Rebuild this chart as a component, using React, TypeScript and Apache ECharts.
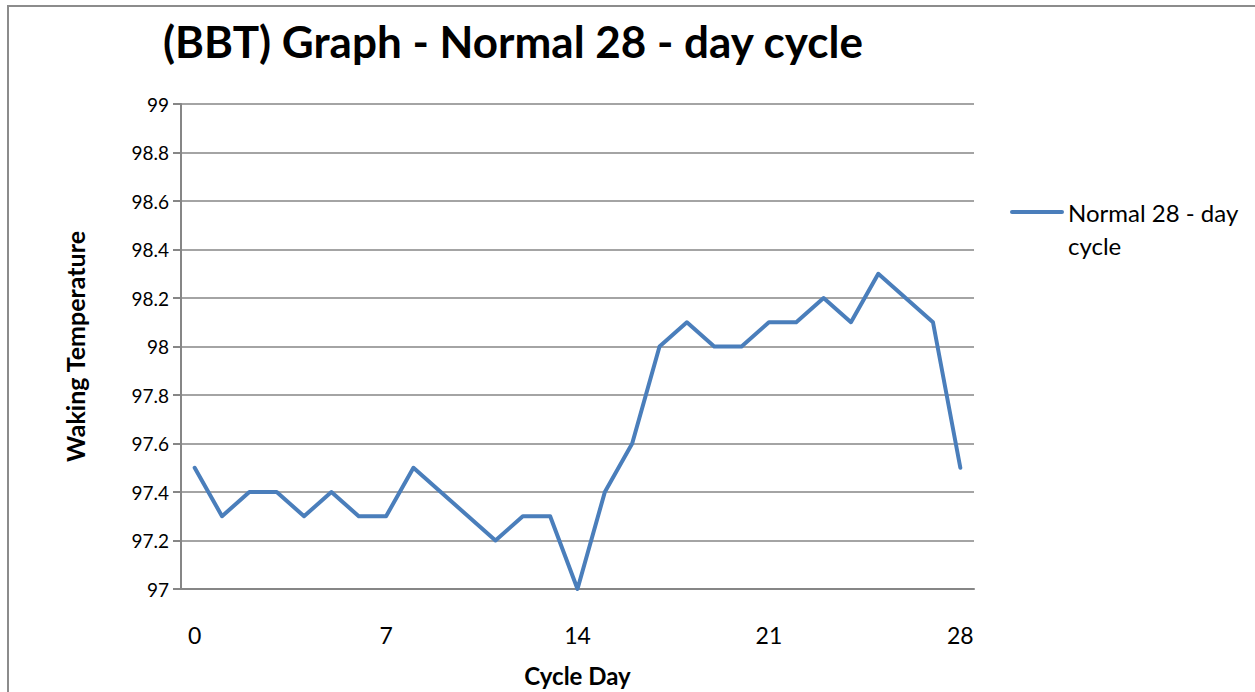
import React, { useEffect, useRef } from "react";
import * as echarts from "echarts";

const days: string[] = [
  "0", "1", "2", "3", "4", "5", "6", "7", "8", "9", "10", "11", "12", "13", "14",
  "15", "16", "17", "18", "19", "20", "21", "22", "23", "24", "25", "26", "27", "28",
];
const temps: number[] = [
  97.5, 97.3, 97.4, 97.4, 97.3, 97.4, 97.3, 97.3, 97.5, 97.4, 97.3, 97.2, 97.3, 97.3, 97.0,
  97.4, 97.6, 98.0, 98.1, 98.0, 98.0, 98.1, 98.1, 98.2, 98.1, 98.3, 98.2, 98.1, 97.5,
];
const seriesName = "Normal 28 - day cycle";
const legendLines = "Normal 28 - day\ncycle";
const titleText = "(BBT) Graph - Normal 28 - day cycle";
const xName = "Cycle Day";
const yName = "Waking Temperature";

const FONT = "Lato";
const LINE_COLOR = "#4a7ebb";

export default function App() {
  const ref = useRef<HTMLDivElement>(null);
  useEffect(() => {
    if (!ref.current) return;
    const chart = echarts.init(ref.current, undefined, { renderer: "svg" });
    chart.setOption({
      animation: false,
      backgroundColor: "#ffffff",
      textStyle: { fontFamily: FONT },
      title: {
        text: titleText,
        left: 163,
        top: 19,
        padding: 0,
        textStyle: { fontFamily: FONT, fontSize: 44, fontWeight: "bold", color: "#000" },
      },
      legend: { show: false, data: [seriesName] },
      graphic: [
        {
          type: "rect",
          shape: { x: 8, y: 6, width: 1260, height: 720 },
          style: { fill: "none", stroke: "#8c8c8c", lineWidth: 2 },
          silent: true,
        },
        {
          type: "line",
          shape: { x1: 1012, y1: 212, x2: 1062, y2: 212 },
          style: { stroke: LINE_COLOR, lineWidth: 4, lineCap: "round" },
          silent: true,
        },
        {
          type: "text",
          x: 1068,
          y: 196,
          style: {
            text: legendLines,
            fontFamily: FONT,
            fontSize: 24,
            lineHeight: 33,
            fill: "#000",
            textVerticalAlign: "top",
          },
          silent: true,
        },
      ],
      grid: { left: 181, right: 281, top: 104, bottom: 93, containLabel: false },
      xAxis: {
        type: "category",
        data: days,
        boundaryGap: true,
        name: xName,
        nameLocation: "middle",
        nameGap: 74,
        nameTextStyle: { fontFamily: FONT, fontSize: 24, fontWeight: "bold", color: "#000" },
        axisLine: { lineStyle: { color: "#868686", width: 2 } },
        axisTick: { show: false },
        axisLabel: {
          interval: 6,
          margin: 34,
          fontFamily: FONT,
          fontSize: 23,
          color: "#000",
        },
        splitLine: { show: false },
      },
      yAxis: {
        type: "value",
        min: 97,
        max: 99,
        interval: 0.2,
        name: yName,
        nameLocation: "middle",
        nameGap: 94,
        nameRotate: 90,
        nameTextStyle: { fontFamily: FONT, fontSize: 25, fontWeight: "bold", color: "#000" },
        axisLine: { show: true, lineStyle: { color: "#868686", width: 2 } },
        axisTick: { show: true, inside: false, length: 8, lineStyle: { color: "#868686", width: 2 } },
        axisLabel: {
          margin: 12,
          fontFamily: FONT,
          fontSize: 19,
          color: "#000",
          formatter: (v: number) => String(Math.round(v * 10) / 10),
        },
        splitLine: { show: true, lineStyle: { color: "#868686", width: 1.5 } },
      },
      series: [
        {
          name: seriesName,
          type: "line",
          data: temps,
          symbol: "none",
          lineStyle: { color: LINE_COLOR, width: 4, cap: "round", join: "round" },
          itemStyle: { color: LINE_COLOR },
        },
      ],
    });
    return () => chart.dispose();
  }, []);
  return (
    <div
      ref={ref}
      style={{ position: "fixed", left: 0, top: 0, width: 1255, height: 692 }}
    />
  );
}
